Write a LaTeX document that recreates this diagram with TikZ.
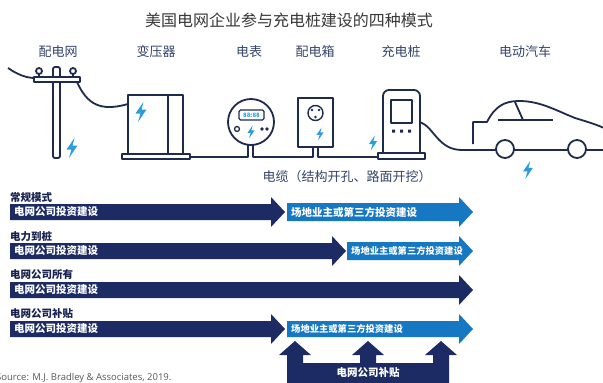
\documentclass[tikz,border=0pt]{standalone}
\usepackage{fontspec}
\setmainfont{Noto Sans CJK SC}
\newfontfamily\srcfont{Open Sans}
\usetikzlibrary{positioning}

\definecolor{navy}{HTML}{1D2B64}
\definecolor{lightbar}{HTML}{1678C3}
\definecolor{boltblue}{HTML}{2A9BDF}
\definecolor{iconline}{HTML}{1F2B4D}
\definecolor{labeltext}{HTML}{33446B}

\tikzset{
    bolt/.pic={\fill[boltblue] (2.5,-10) -- (-5.5,1.5) -- (-0.5,1.5) -- (-3,10)
        -- (5.5,-2.5) -- (0.5,-2.5) -- cycle;}
}

% bar with arrow head: start x, tip x, centre y, half height of body, colour
\newcommand\flowbar[5]{%
    \fill[#5] (#1,#3-#4) -- (#2-14,#3-#4) -- (#2-14,#3-15) -- (#2,#3)
        -- (#2-14,#3+15) -- (#2-14,#3+#4) -- (#1,#3+#4) -- cycle;}

\begin{document}
\begin{tikzpicture}[x=1pt,y=-1pt,line join=round,
        icon/.style={draw=iconline,line width=1.8pt},
        toplabel/.style={text=labeltext,font=\fontsize{13}{13}\selectfont},
        modelabel/.style={anchor=west,inner sep=0pt,text=navy!80!black,
            font=\fontsize{10.5}{10.5}\selectfont\bfseries},
        bartext/.style={anchor=west,inner sep=0pt,text=white,
            font=\fontsize{10.5}{10.5}\selectfont\bfseries},
        smallbartext/.style={bartext,font=\fontsize{9.3}{9.3}\selectfont\bfseries}]
    \useasboundingbox (0,0) rectangle (603,383);
    \fill[white] (0,0) rectangle (603,383);

    \node[text=black!78,font=\fontsize{16}{16}\selectfont] (title) at (289,20)
        {美国电网企业参与充电桩建设的四种模式};

    \node[toplabel] (lblGrid)  at (58,52)  {配电网};
    \node[toplabel] (lblTrans) at (156,52) {变压器};
    \node[toplabel] (lblMeter) at (249,52) {电表};
    \node[toplabel] (lblBox)   at (315,52) {配电箱};
    \node[toplabel] (lblPile)  at (401,52) {充电桩};
    \node[toplabel] (lblCar)   at (525,52) {电动汽车};

    % utility pole
    \draw[icon] (8,68) .. controls (18,75) and (27,78) .. (35,78);
    \draw[icon,fill=white,rounded corners=2] (53,158) rectangle (60,67);
    \draw[icon] (39,74) -- (39,77) (73,74) -- (73,77);
    \draw[icon,fill=white] (39,71) circle (3) (73,71) circle (3);
    \draw[icon,fill=white] (34,77) rectangle (80,82);
    \draw[icon] (77,82) .. controls (87,104) and (100,112) .. (128,104);
    \pic at (72,148) {bolt};

    % transformer
    \draw[icon] (128,95) rectangle (183,154);
    \draw[icon] (168,95) -- (168,154);
    \draw[icon] (122,154) rectangle (190,159);
    \pic at (141,112) {bolt};

    % cable
    \draw[icon] (190,157) -- (248,157) -- (248,145);
    \draw[icon] (253,145) -- (253,157) -- (313,157) -- (313,147);
    \draw[icon] (318,147) -- (318,157) -- (378,157);
    \node[text=labeltext,font=\fontsize{13}{13}\selectfont] (lblCable) at (347,177)
        {电缆（结构开孔、路面开挖）};

    % meter
    \draw[icon] (251,122) circle (23);
    \draw[icon,line width=1.4pt,rounded corners=1.5] (239,110) rectangle (264,120);
    \node[text=boltblue,inner sep=0pt,font=\fontsize{6}{6}\selectfont\bfseries]
        (meterdigits) at (251.5,115) {88:88};
    \draw[icon,line width=1.3pt] (237,129) circle (2.5);
    \fill[iconline] (262,129) circle (1.8) (267,129) circle (1.8);
    \pic[scale=0.65] at (251,132) {bolt};

    % distribution box
    \draw[icon] (298,98) rectangle (333,147);
    \draw[icon,line width=1.4pt] (315.5,113) circle (7.5);
    \fill[iconline] (312,110) circle (1.3) (319,110) circle (1.3) (315.5,117) circle (1.3);
    \pic[scale=0.65] at (320,134) {bolt};

    % charging pile
    \draw[icon,rounded corners=6] (383,153) -- (383,90) -- (420,90) -- (420,153);
    \draw[icon] (391,100) rectangle (412,123);
    \fill[iconline] (392,129.5) rectangle (395,132.5) (400,129.5) rectangle (403,132.5)
        (408,129.5) rectangle (411,132.5);
    \draw[icon] (378,153) rectangle (425,159);
    \pic[scale=0.75] at (373,143) {bolt};

    % cable to the car and the car
    \draw[icon] (420,122) .. controls (434,127) and (438,150) .. (462,150) -- (496,150);
    \draw[icon] (514,150) -- (568,150) (586,150) -- (606,150);
    \draw[icon] (505,149) circle (9) (577,149) circle (9);
    \draw[icon] (473,144) -- (473,122) -- (487,122)
        .. controls (495,106) and (505,101) .. (519,101)
        .. controls (540,101) and (555,110) .. (575,118)
        .. controls (588,122) and (598,125) .. (606,129);
    \draw[icon] (498,120) -- (553,120);
    \draw[icon] (515,102) -- (523,120);
    \pic[scale=0.9] at (528,170) {bolt};

    % 常规模式
    \node[modelabel] (modeA) at (10,197) {常规模式};
    \flowbar{10}{285}{212}{8}{navy}
    \flowbar{287}{473}{212}{9}{lightbar}
    \node[bartext] (gridA) at (14,212) {电网公司投资建设};
    \node[bartext] (ownerA) at (291,212) {场地业主或第三方投资建设};

    % 电力到桩
    \node[modelabel] (modeB) at (10,237) {电力到桩};
    \flowbar{10}{346}{251}{8}{navy}
    \flowbar{347}{473}{251}{9}{lightbar}
    \node[bartext] (gridB) at (14,251) {电网公司投资建设};
    \node[smallbartext] (ownerB) at (351,251) {场地业主或第三方投资建设};

    % 电网公司所有
    \node[modelabel] (modeC) at (10,275) {电网公司所有};
    \flowbar{10}{473}{290}{8}{navy}
    \node[bartext] (gridC) at (14,290) {电网公司投资建设};

    % 电网公司补贴
    \node[modelabel] (modeD) at (10,314) {电网公司补贴};
    \flowbar{10}{285}{329}{8}{navy}
    \flowbar{287}{473}{329}{8}{lightbar}
    \node[bartext] (gridD) at (14,329) {电网公司投资建设};
    \node[smallbartext] (ownerD) at (291,329) {场地业主或第三方投资建设};

    \fill[navy] (287,385) -- (287,355) -- (279,355) -- (295,341) -- (311,355)
        -- (303,355) -- (303,363) -- (360,363) -- (360,355) -- (352,355)
        -- (368,341) -- (384,355) -- (376,355) -- (376,363) -- (433,363)
        -- (433,355) -- (425,355) -- (441,341) -- (457,355) -- (449,355)
        -- (449,385) -- cycle;
    \node[text=white,font=\fontsize{10.5}{10.5}\selectfont\bfseries] (subsidy)
        at (368,373) {电网公司补贴};

    \node[anchor=west,inner sep=0pt,text=black!65,font=\srcfont\fontsize{9.5}{9.5}\selectfont]
        (source) at (-4,378) {Source: M.J. Bradley \& Associates, 2019.};
\end{tikzpicture}
\end{document}
